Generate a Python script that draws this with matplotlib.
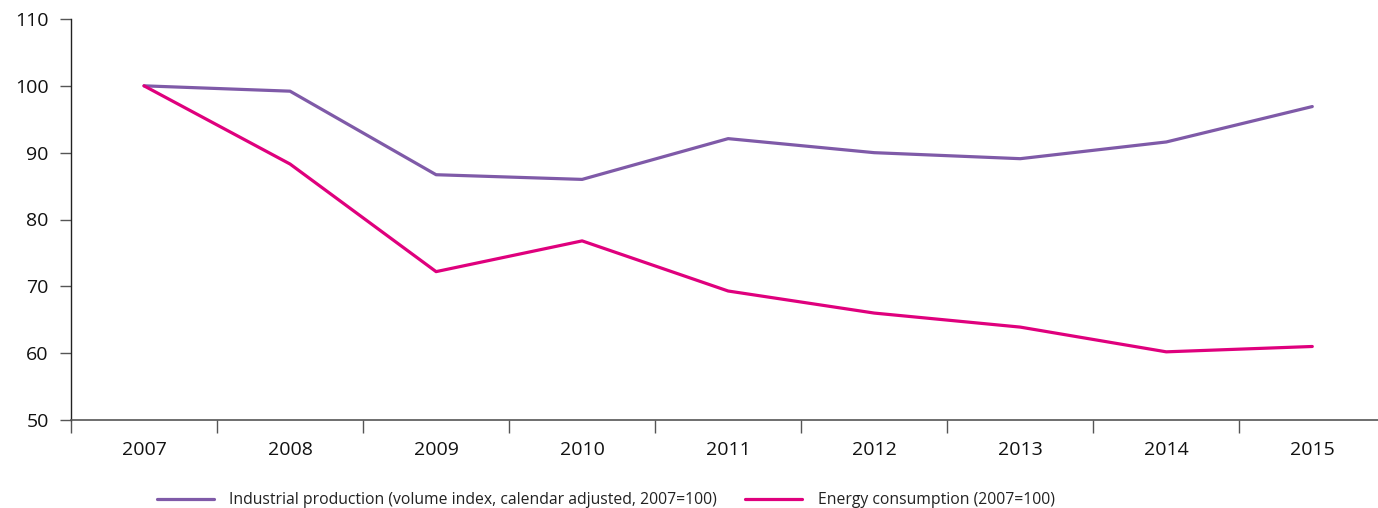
import matplotlib.pyplot as plt
import numpy as np

plt.rcParams['font.family'] = ['Open Sans', 'DejaVu Sans']

years = ['2007', '2008', '2009', '2010', '2011', '2012', '2013', '2014', '2015']
industrial = [100.0, 99.2, 86.7, 86.0, 92.1, 90.0, 89.1, 91.6, 96.9]
energy = [100.0, 88.3, 72.2, 76.8, 69.3, 66.0, 63.9, 60.2, 61.0]

purple = '#7f5aa8'
magenta = '#df007d'

fig = plt.figure(figsize=(13.78, 5.08), dpi=100)
ax = fig.add_axes([71 / 1378, 1 - 420 / 508, 1 - 71 / 1378, (420 - 19) / 508])

x = np.arange(len(years))
ax.plot(x, industrial, color=purple, lw=2.3, solid_capstyle='round',
        label='Industrial production (volume index, calendar adjusted, 2007=100)')
ax.plot(x, energy, color=magenta, lw=2.3, solid_capstyle='round',
        label='Energy consumption (2007=100)')

ax.set_ylim(50, 110)
ax.set_yticks(range(50, 111, 10))
ax.set_xlim(-0.5, 8.45)
ax.set_xticks(x)
ax.set_xticklabels(years)
# category separators, including the one at the y axis
ax.set_xticks(np.append(x[:-1] + 0.5, -0.5), minor=True)

for s in ['top', 'right']:
    ax.spines[s].set_visible(False)
ax.spines['left'].set_color('#222222')
ax.spines['bottom'].set_color('#555555')
ax.spines['left'].set_linewidth(1.0)
ax.spines['bottom'].set_linewidth(1.2)

ax.tick_params(axis='y', length=8, width=1, color='#555555', pad=8, labelsize=14, labelcolor='#111111')
ax.tick_params(axis='x', which='major', length=0, pad=15, labelsize=14, labelcolor='#111111')
ax.tick_params(axis='x', which='minor', length=9, width=1, color='#555555')

fig.legend(loc='lower left', bbox_to_anchor=(143 / 1378, -0.028), ncol=2, frameon=False,
           fontsize=11.3, handlelength=3.6, handletextpad=1.0, columnspacing=1.8,
           labelcolor='#222222')

fig.savefig('out.png', dpi=100)
